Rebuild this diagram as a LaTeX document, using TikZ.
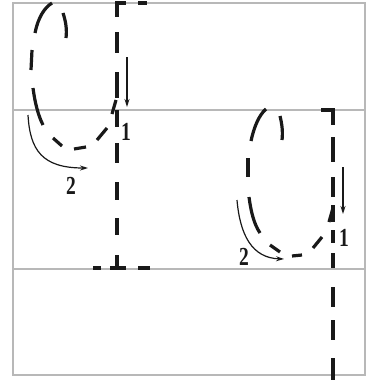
\documentclass[tikz,border=0pt]{standalone}
\usepackage{fontspec}
\setmainfont{Liberation Serif}
\usetikzlibrary{arrows.meta}
\newcommand\lbldigit[1]{\scalebox{0.75}[1]{#1}}
\tikzset{
  dsh/.style={line width=3.2pt, black!90, line join=miter},
  guide/.style={line width=1.4pt, black!28},
  mv/.style={line width=1.2pt, black!90, -{Stealth[length=8pt,width=5pt]}},
  lab/.style={font=\bfseries\fontsize{26}{26}\selectfont, inner sep=0pt, black!90}
}
\begin{document}
\begin{tikzpicture}[x=1pt,y=-1pt]
\useasboundingbox (0,0) rectangle (371,383);
% guide frame and lines
\draw[guide] (13,3) rectangle (365,375);
\draw[guide] (13,110) -- (365,110);
\draw[guide] (13,269) -- (365,269);

% ---- left glyph ----
\draw[dsh] (35,33) .. controls (38,18) and (44,8) .. (52,3);
\draw[dsh] (63,13) .. controls (66,22) and (67,30) .. (66,38);
\draw[dsh] (32,50) -- (31,70);
\draw[dsh] (33,88) .. controls (35,103) and (38,115) .. (43,125);
\draw[dsh] (53,138) -- (62,146);
\draw[dsh] (74,149) -- (86,147);
\draw[dsh] (97,140) -- (107,128);
\draw[dsh] (112,114) -- (116,100);
% stem
\draw[dsh] (126,3) -- (117,3) -- (117,17);
\draw[dsh] (138,3) -- (147,3);
\foreach \a/\b in {32/53, 72/98, 110/127, 143/163, 182/200, 218/235}
  \draw[dsh] (117,\a) -- (117,\b);
\draw[dsh] (117,255) -- (117,268);
\draw[dsh] (110,268) -- (126,268);
\draw[dsh] (93,268) -- (101,268);
\draw[dsh] (138,268) -- (150,268);
% arrows and labels
\coordinate (la1s) at (127,57);
\coordinate (la1e) at (127,107);
\draw[mv] (la1s) -- (la1e);
\node[lab] (l1) at (126,132) {\lbldigit{1}};
\coordinate (la2s) at (28,115);
\coordinate (la2e) at (88,168);
\draw[mv] (la2s) .. controls (30,150) and (42,168) .. (la2e);
\node[lab] (l2) at (71,186) {\lbldigit{2}};

% ---- right glyph ----
\draw[dsh] (251,141) .. controls (254,127) and (259,115) .. (266,109);
\draw[dsh] (280,116) .. controls (282,124) and (283,132) .. (282,140);
\draw[dsh] (248,158) -- (248,177);
\draw[dsh] (249,197) .. controls (251,212) and (254,224) .. (260,233);
\draw[dsh] (270,245) -- (280,252);
\draw[dsh] (292,256) -- (302,255);
\draw[dsh] (313,248) -- (322,237);
\draw[dsh] (329,222) -- (333,208);
% stem
\draw[dsh] (321,110) -- (333,110) -- (333,125);
\foreach \a/\b in {137/162, 177/197, 205/222, 230/243, 253/268, 287/307, 320/340, 358/380}
  \draw[dsh] (333,\a) -- (333,\b);
% arrows and labels
\coordinate (ra1s) at (343,167);
\coordinate (ra1e) at (343,214);
\draw[mv] (ra1s) -- (ra1e);
\node[lab] (r1) at (344,238) {\lbldigit{1}};
\coordinate (ra2s) at (237,200);
\coordinate (ra2e) at (284,259);
\draw[mv] (ra2s) .. controls (240,235) and (252,258) .. (ra2e);
\node[lab] (r2) at (244,257) {\lbldigit{2}};
\end{tikzpicture}
\end{document}
